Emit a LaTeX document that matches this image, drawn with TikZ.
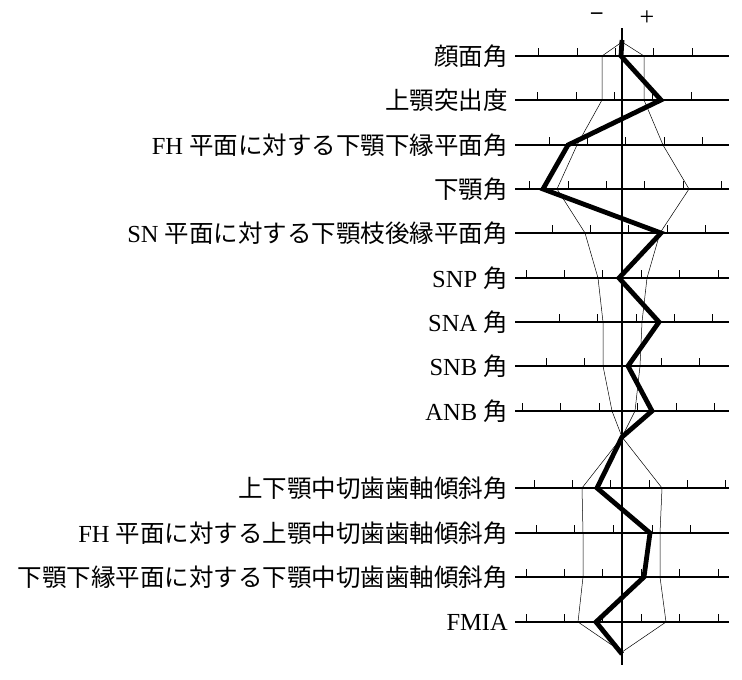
\documentclass[tikz,border=0pt]{standalone}
\usepackage{fontspec}
\setmainfont{Liberation Serif}
\newfontfamily\cjk{Noto Sans CJK JP}
\begin{document}
\begin{tikzpicture}[x=1pt,y=-1pt,
  hl/.style={line width=1.6pt},
  tk/.style={line width=0.9pt},
  thin/.style={line width=0.5pt},
  thick/.style={line width=4.8pt,line join=miter},
  lab/.style={anchor=east,font=\fontsize{24.5}{25}\selectfont,inner sep=0pt}]
\useasboundingbox (0,0) rectangle (742,680);
\coordinate (top) at (622,28);
\coordinate (bot) at (622,665);
\draw[hl] (top) -- (bot);
\node[font=\fontsize{24}{24}\selectfont] (minus) at (597,18) {\cjk −};
\node[font=\fontsize{26}{26}\selectfont] (plus) at (647,18) {+};
\def\rowdraw#1#2#3{%
  \draw[hl] (515,#1) -- (729,#1);
  \foreach \t in {#3} \draw[tk] (\t,#1) -- (\t,#1-8);
  \node[lab] at (508,#1) {#2};}
\rowdraw{56}{\cjk 顔面角}{538,577,615,653,692}
\rowdraw{100}{\cjk 上顎突出度}{537,576,614,652,691}
\rowdraw{145}{FH {\cjk 平面に対する下顎下縁平面角}}{549,587,625,664,702}
\rowdraw{189}{\cjk 下顎角}{529,568,606,644,683,721}
\rowdraw{233}{SN {\cjk 平面に対する下顎枝後縁平面角}}{552,590,628,667,705}
\rowdraw{278}{SNP {\cjk 角}}{526,564,602,641,679,718}
\rowdraw{322}{SNA {\cjk 角}}{559,597,636,674,712}
\rowdraw{366}{SNB {\cjk 角}}{546,584,661,699}
\rowdraw{411}{ANB {\cjk 角}}{522,560,599,637,676,714}
\rowdraw{488}{\cjk 上下顎中切歯歯軸傾斜角}{534,572,610,649,687,725}
\rowdraw{533}{FH {\cjk 平面に対する上顎中切歯歯軸傾斜角}}{536,574,613,652,690}
\rowdraw{577}{\cjk 下顎下縁平面に対する下顎中切歯歯軸傾斜角}{526,564,602,641,679,718}
\rowdraw{622}{FMIA}{526,564,602,641,679,718}
\draw[thin] (622,42) -- (602,56) -- (602,100) -- (577,145) -- (557,189) -- (585,233) -- (598,278) -- (603,322) -- (603,366) -- (612,411) -- (622,437) -- (582,488) -- (583,533) -- (583,577) -- (578,622) -- (622,652);
\draw[thin] (622,42) -- (644,56) -- (644,100) -- (663,145) -- (689,189) -- (660,233) -- (647,278) -- (642,322) -- (640,366) -- (635,411) -- (622,437) -- (662,488) -- (660,533) -- (660,577) -- (666,622) -- (622,652);
\draw[thick] (622,40) -- (621,56) -- (661,100) -- (568,145) -- (543,189) -- (661,233) -- (619,278) -- (659,322) -- (628,366) -- (652,411) -- (622,437) -- (597,488) -- (650,533) -- (644,577) -- (596,622) -- (622,654);
\end{tikzpicture}
\end{document}
